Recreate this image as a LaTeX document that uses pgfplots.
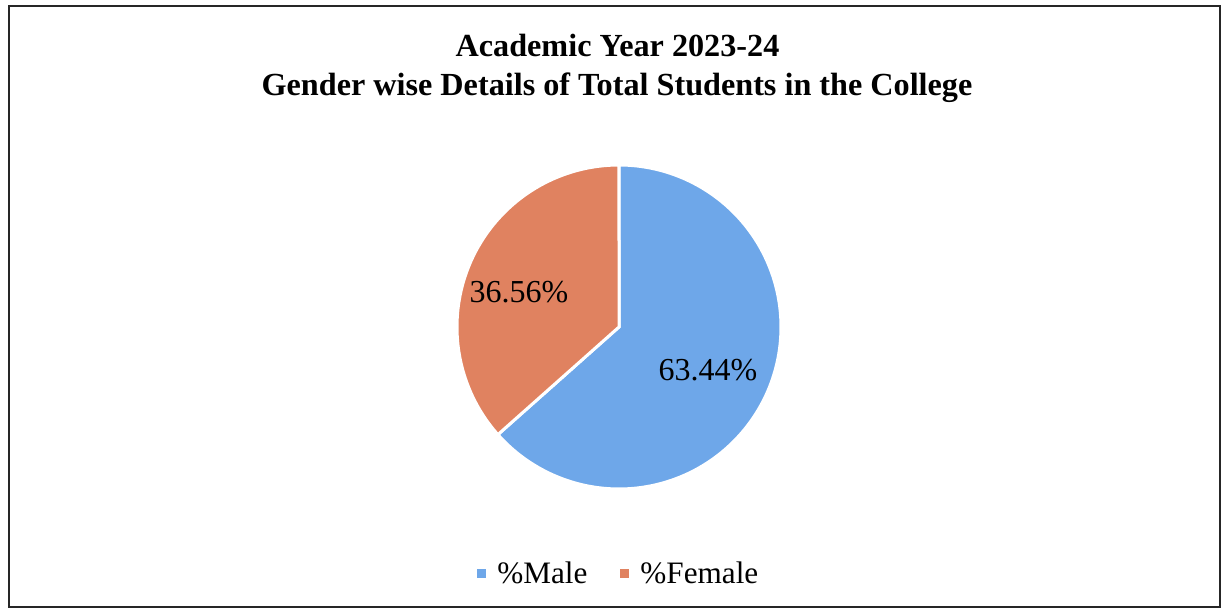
\documentclass[border=0pt]{standalone}
\usepackage{pgfplots}
\pgfplotsset{compat=1.18}
\usepackage{fontspec}
\setmainfont{Liberation Serif}
\definecolor{maleblue}{RGB}{110,167,233}
\definecolor{femorange}{RGB}{224,130,96}
\begin{document}
\begin{tikzpicture}
\path[use as bounding box] (0,0) rectangle (611.5pt,306pt);
\draw[line width=1pt,black!85] (4.5pt,2.5pt) rectangle (610pt,302.75pt);
\node[font=\bfseries\fontsize{16.1}{19}\selectfont] at (308.75pt,283.5pt) {Academic Year 2023-24};
\node[font=\bfseries\fontsize{16.1}{19}\selectfont] at (308.5pt,262.2pt) {Gender wise Details of Total Students in the College};
\pgfmathsetmacro{\male}{63.44}
\pgfmathsetmacro{\female}{36.56}
\pgfmathsetmacro{\aend}{90-3.6*\male}
\pgfmathsetmacro{\bend}{\aend-3.6*\female}
\begin{axis}[
  at={(309.5pt,142.5pt)}, anchor=center,
  width=162pt, height=162pt, scale only axis,
  xmin=-1, xmax=1, ymin=-1, ymax=1,
  hide axis, clip=false,
  legend style={at={(0.498,-0.262)}, anchor=center, draw=none, fill=none,
    legend columns=2, font=\fontsize{15.6}{18}\selectfont,
    /tikz/every even column/.append style={column sep=13pt}},
  legend cell align=left,
  legend image code/.code={\path (0pt,0pt) -- (8pt,0pt); \fill[#1] (0pt,-3pt) rectangle (6pt,3pt);},
]
\addplot[draw=white, line width=1.5pt, fill=maleblue, domain=90:\aend, samples=150, variable=\t]
  ({cos(\t)},{sin(\t)}) -- (axis cs:0,0) -- cycle;
\addlegendentry{\%Male}
\addplot[draw=white, line width=1.5pt, fill=femorange, domain=\aend:\bend, samples=120, variable=\t]
  ({cos(\t)},{sin(\t)}) -- (axis cs:0,0) -- cycle;
\addlegendentry{\%Female}
\node[font=\fontsize{16}{18}\selectfont] at (axis cs:0.549,-0.265) {63.44\%};
\node[font=\fontsize{16}{18}\selectfont] at (axis cs:-0.617,0.216) {36.56\%};
\end{axis}
\end{tikzpicture}
\end{document}
